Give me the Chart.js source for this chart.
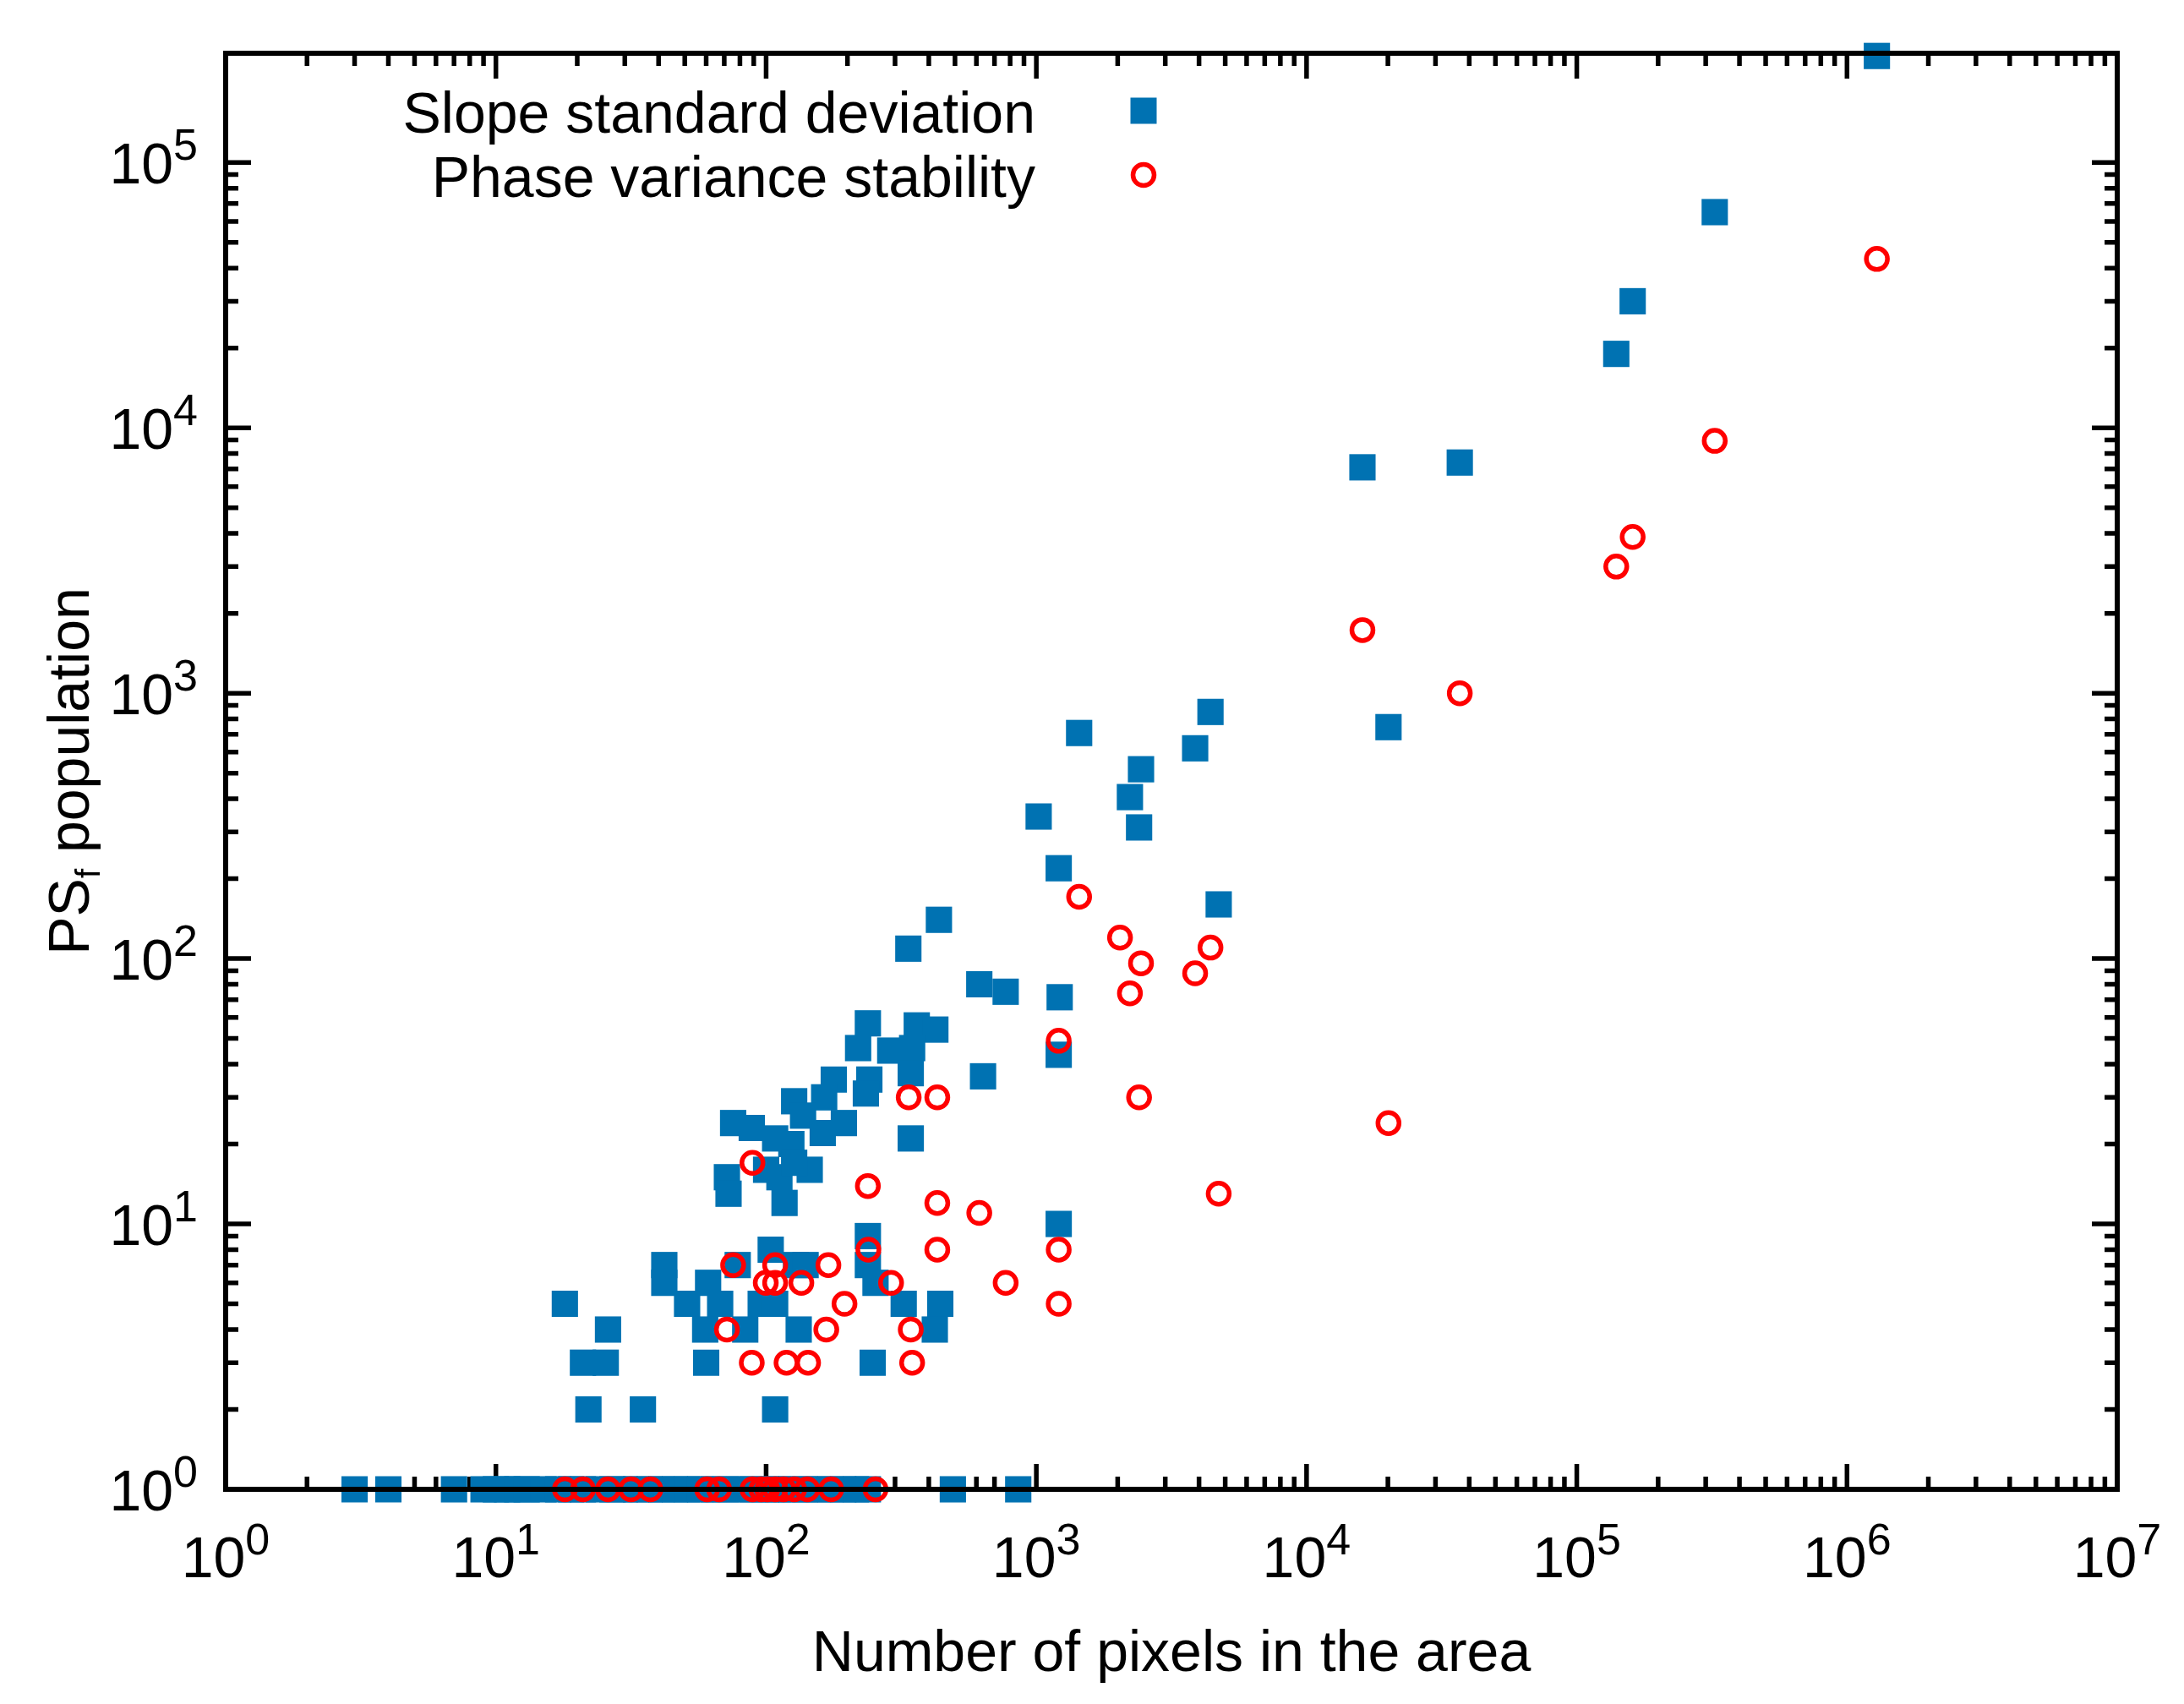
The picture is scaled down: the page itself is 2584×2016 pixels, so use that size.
<!DOCTYPE html>
<html>
<head>
<meta charset="utf-8">
<script src="https://cdn.jsdelivr.net/npm/chart.js@4.4.1/dist/chart.umd.min.js"></script>
<style>
  html, body { margin: 0; padding: 0; background: #fff; }
  #wrap { width: 2584px; height: 2016px; }
</style>
</head>
<body>
<div id="wrap"><canvas id="chart" width="2584" height="2016"></canvas></div>
<script>
// Slope standard deviation (blue squares): area size in pixels vs PSf population
const slopeX = [
  1.29e6, 3.24e5, 1.61e5, 1.40e5, 3.69e4, 1.61e4, 2.01e4, 4410, 3870, 1440,
  2440, 2220, 2400, 1020, 1210, 4730, 1220, 1210, 1210, 436,
  336, 615, 770, 635,
  238, 361, 423, 219, 288, 347, 241, 343, 178, 234,
  164, 127, 137, 194, 162, 75.5, 88.5, 108, 124, 145,
  112, 100, 127, 71.6, 72.6, 117, 343,
  18, 26, 21, 25.5, 22, 35, 108, 42, 42, 61,
  51, 67.6, 59.5, 83.7, 78.5, 104, 95.5, 108, 129, 140,
  132, 60, 238, 238, 254, 323, 441, 421, 248,
  3, 4, 7, 9, 10, 11, 12, 13, 15, 17,
  19, 21, 24, 27, 30, 33, 37, 41, 46, 51,
  57, 64, 71, 80, 89, 100, 111, 124, 139, 155,
  173, 193, 215, 238, 491, 857
];
const slopeY = [
  2.52e5, 6.5e4, 3.0e4, 1.9e4, 7.4e3, 7.1e3, 745, 850, 620, 708,
  517, 406, 312, 343, 219, 160, 71.5, 43.4, 10, 140,
  109, 80, 75, 36,
  57, 56, 54, 46, 45, 46, 35, 37, 35, 31,
  30, 29, 25.6, 24, 22, 24, 23, 21, 20, 16,
  15, 16, 17, 15, 13, 12, 21,
  5, 4, 3, 3, 2, 2, 2, 7, 6, 6,
  5, 5, 4, 4, 7, 8, 5, 5, 7, 7,
  4, 3, 9, 7, 6, 5, 5, 4, 3,
  1, 1, 1, 1, 1, 1, 1, 1, 1, 1,
  1, 1, 1, 1, 1, 1, 1, 1, 1, 1,
  1, 1, 1, 1, 1, 1, 1, 1, 1, 1,
  1, 1, 1, 1, 1, 1
];

// Phase variance stability (red open circles)
const phaseX = [
  1.29e6, 3.24e5, 1.61e5, 1.40e5, 1.61e4, 3.69e4, 2.01e4, 1440, 2040, 2440,
  2220, 4410, 3870, 2400, 4730, 1210, 1210, 1210, 615, 770,
  430, 337, 430, 430, 238, 239, 170, 290, 195, 343,
  347, 167, 135, 108, 99.7, 108, 75.5, 71.6, 88.5, 119,
  143, 89,
  18, 21, 26, 31.6, 37.3, 60.5, 67, 89, 96, 101,
  108, 116, 127, 142, 174, 254
];
const phaseY = [
  4.33e4, 8.93e3, 3.88e3, 3.0e3, 1.73e3, 1.0e3, 24, 171, 120, 96,
  74, 110, 88, 30, 13, 49, 8, 5, 11, 6,
  30, 30, 12, 8, 13.9, 8, 7, 6, 5, 4,
  3, 4, 6, 7, 6, 6, 7, 4, 3, 3,
  3, 17,
  1, 1, 1, 1, 1, 1, 1, 1, 1, 1,
  1, 1, 1, 1, 1, 1
];

const xExponents = [0, 1, 2, 3, 4, 5, 6, 7];
const yExponents = [0, 1, 2, 3, 4, 5];
const seriesNames = ['Slope standard deviation', 'Phase variance stability'];
const xTitle = 'Number of pixels in the area';

const FONT = '"Liberation Sans", Arial, sans-serif';
const BLUE = '#0072b2';
const RED = '#ff0000';

const toPoints = (xs, ys) => xs.map((x, i) => ({ x: x, y: ys[i] }));

// gnuplot-like frame: inward ticks on all sides, 10^n labels, legend, titles
const gnuplotFrame = {
  id: 'gnuplotFrame',
  beforeDatasetsDraw(chart) {
    const { ctx, chartArea: a, scales: { x, y } } = chart;
    ctx.save();
    ctx.strokeStyle = '#000';
    ctx.lineWidth = 5.5;
    ctx.beginPath();
    // x ticks (bottom and top)
    xExponents.forEach((e, i) => {
      const px = x.getPixelForValue(Math.pow(10, e));
      ctx.moveTo(px, a.bottom); ctx.lineTo(px, a.bottom - 30);
      ctx.moveTo(px, a.top); ctx.lineTo(px, a.top + 30);
      if (i < xExponents.length - 1) {
        for (let k = 2; k <= 9; k++) {
          const mx = x.getPixelForValue(k * Math.pow(10, e));
          ctx.moveTo(mx, a.bottom); ctx.lineTo(mx, a.bottom - 15);
          ctx.moveTo(mx, a.top); ctx.lineTo(mx, a.top + 15);
        }
      }
    });
    // y ticks (left and right)
    yExponents.forEach((e, i) => {
      const py = y.getPixelForValue(Math.pow(10, e));
      ctx.moveTo(a.left, py); ctx.lineTo(a.left + 30, py);
      ctx.moveTo(a.right, py); ctx.lineTo(a.right - 30, py);
      if (i < yExponents.length - 1) {
        for (let k = 2; k <= 9; k++) {
          const my = y.getPixelForValue(k * Math.pow(10, e));
          ctx.moveTo(a.left, my); ctx.lineTo(a.left + 15, my);
          ctx.moveTo(a.right, my); ctx.lineTo(a.right - 15, my);
        }
      }
    });
    ctx.stroke();
    ctx.restore();
  },
  afterDatasetsDraw(chart) {
    const { ctx, chartArea: a, scales: { x, y } } = chart;
    ctx.save();
    // border
    ctx.strokeStyle = '#000';
    ctx.lineWidth = 6;
    ctx.strokeRect(a.left, a.top, a.right - a.left, a.bottom - a.top);

    ctx.fillStyle = '#000';
    const big = '68px ' + FONT, sup = '52px ' + FONT;

    // x tick labels
    ctx.textBaseline = 'alphabetic';
    xExponents.forEach(e => {
      const px = x.getPixelForValue(Math.pow(10, e));
      ctx.font = big; const w1 = ctx.measureText('10').width;
      ctx.font = sup; const w2 = ctx.measureText(String(e)).width;
      const x0 = px - (w1 + w2) / 2;
      ctx.font = big; ctx.textAlign = 'left'; ctx.fillText('10', x0, a.bottom + 104);
      ctx.font = sup; ctx.fillText(String(e), x0 + w1, a.bottom + 77);
    });

    // y tick labels
    yExponents.forEach(e => {
      const py = y.getPixelForValue(Math.pow(10, e));
      ctx.font = sup; const w2 = ctx.measureText(String(e)).width;
      ctx.textAlign = 'right';
      ctx.fillText(String(e), a.left - 33, py - 3);
      ctx.font = big;
      ctx.fillText('10', a.left - 33 - w2, py + 25);
    });

    // x title
    ctx.font = big; ctx.textAlign = 'center';
    ctx.fillText(xTitle, (a.left + a.right) / 2, a.bottom + 215);

    // y title with subscript f
    ctx.save();
    ctx.translate(105, (a.top + a.bottom) / 2);
    ctx.rotate(-Math.PI / 2);
    ctx.textAlign = 'left';
    const subFont = '40px ' + FONT;
    ctx.font = big; const wPS = ctx.measureText('PS').width;
    ctx.font = subFont; const wf = ctx.measureText('f').width;
    ctx.font = big; const wRest = ctx.measureText(' population').width;
    let tx = -(wPS + wf + wRest) / 2;
    ctx.fillText('PS', tx, 0); tx += wPS;
    ctx.font = subFont; ctx.fillText('f', tx, 13); tx += wf;
    ctx.font = big; ctx.fillText(' population', tx, 0);
    ctx.restore();

    // legend
    ctx.font = big; ctx.textAlign = 'right';
    ctx.fillText(seriesNames[0], 1225, 157);
    ctx.fillText(seriesNames[1], 1225, 233);
    ctx.fillStyle = BLUE;
    ctx.fillRect(1353 - 15.5, 131 - 15.5, 31, 31);
    ctx.strokeStyle = RED; ctx.lineWidth = 5.5;
    ctx.beginPath(); ctx.arc(1353, 207, 12.5, 0, Math.PI * 2); ctx.stroke();
    ctx.restore();
  }
};

new Chart(document.getElementById('chart'), {
  type: 'scatter',
  data: {
    datasets: [
      { label: seriesNames[0], data: toPoints(slopeX, slopeY), order: 2, clip: false,
        pointStyle: 'rect', pointRadius: 22, pointBorderWidth: 0,
        backgroundColor: BLUE, borderColor: BLUE },
      { label: seriesNames[1], data: toPoints(phaseX, phaseY), order: 1, clip: false,
        pointStyle: 'circle', pointRadius: 12.5, pointBorderWidth: 5.5,
        backgroundColor: 'rgba(0,0,0,0)', borderColor: RED }
    ]
  },
  options: {
    responsive: false,
    animation: false,
    devicePixelRatio: 1,
    events: [],
    layout: { padding: { left: 267, top: 63, right: 79, bottom: 254 } },
    plugins: { legend: { display: false }, tooltip: { enabled: false } },
    scales: {
      x: { type: 'logarithmic', min: 1, max: 1e7, display: false },
      y: { type: 'logarithmic', min: 1, max: 2.58e5, display: false }
    }
  },
  plugins: [gnuplotFrame]
});
</script>
</body>
</html>
